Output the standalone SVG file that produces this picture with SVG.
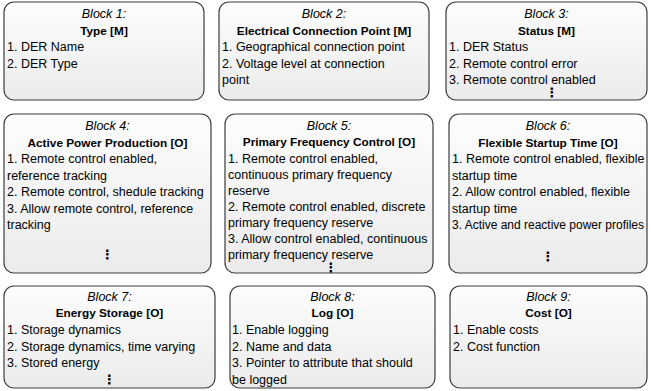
<svg xmlns="http://www.w3.org/2000/svg" width="651" height="391" viewBox="0 0 651 391">
  <defs>
    <linearGradient id="boxFill" x1="0" y1="0" x2="0" y2="1">
      <stop offset="0" stop-color="#fdfdfd"/>
      <stop offset="1" stop-color="#ebebeb"/>
    </linearGradient>
    <style>
      .box { fill: url(#boxFill); stroke: #3c3c3c; stroke-width: 1.2; }
      text { font-family: "Liberation Sans", Arial, sans-serif; fill: #000; }
      .head { font-size: 12.5px; font-style: italic; text-anchor: middle; }
      .title { font-size: 11.8px; font-weight: bold; text-anchor: middle; }
      .item { font-size: 12.5px; }
      .dots { font-family: "DejaVu Sans", sans-serif; font-size: 13px; font-weight: bold; text-anchor: middle; }
    </style>
  </defs>

  <!-- Row 1 -->
  <g id="block1">
    <rect class="box" x="4" y="2" width="200" height="98" rx="10"/>
    <text class="head" x="104" y="18">Block 1:</text>
    <text class="title" x="104" y="34.5">Type [M]</text>
    <text class="item" x="7" y="51">1. DER Name</text>
    <text class="item" x="7" y="67.5">2. DER Type</text>
  </g>

  <g id="block2">
    <rect class="box" x="219" y="2" width="210" height="98" rx="10"/>
    <text class="head" x="324" y="18">Block 2:</text>
    <text class="title" x="324" y="34.5">Electrical Connection Point [M]</text>
    <text class="item" x="222" y="51">1. Geographical connection point</text>
    <text class="item" x="222" y="67.5">2. Voltage level at connection</text>
    <text class="item" x="222" y="84">point</text>
  </g>

  <g id="block3">
    <rect class="box" x="446" y="2" width="201" height="98" rx="10"/>
    <text class="head" x="546.5" y="18">Block 3:</text>
    <text class="title" x="546.5" y="34.5">Status [M]</text>
    <text class="item" x="449" y="51">1. DER Status</text>
    <text class="item" x="449" y="67.5">2. Remote control error</text>
    <text class="item" x="449" y="84">3. Remote control enabled</text>
    <text class="dots" x="552" y="97">⋮</text>
  </g>

  <!-- Row 2 -->
  <g id="block4">
    <rect class="box" x="4" y="114" width="207" height="159" rx="10"/>
    <text class="head" x="107.5" y="130">Block 4:</text>
    <text class="title" x="107.5" y="146.5">Active Power Production [O]</text>
    <text class="item" x="7" y="163">1. Remote control enabled,</text>
    <text class="item" x="7" y="179.5">reference tracking</text>
    <text class="item" x="7" y="196">2. Remote control, shedule tracking</text>
    <text class="item" x="7" y="212.5">3. Allow remote control, reference</text>
    <text class="item" x="7" y="229">tracking</text>
    <text class="dots" x="107.5" y="259">⋮</text>
  </g>

  <g id="block5">
    <rect class="box" x="225" y="114" width="208" height="159" rx="10"/>
    <text class="head" x="329" y="130">Block 5:</text>
    <text class="title" x="329" y="146">Primary Frequency Control [O]</text>
    <text class="item" x="228" y="162.5">1. Remote control enabled,</text>
    <text class="item" x="228" y="178.5">continuous primary frequency</text>
    <text class="item" x="228" y="194.5">reserve</text>
    <text class="item" x="228" y="210.5">2. Remote control enabled, discrete</text>
    <text class="item" x="228" y="226.5">primary frequency reserve</text>
    <text class="item" x="228" y="242.5">3. Allow control enabled, continuous</text>
    <text class="item" x="228" y="258.5">primary frequency reserve</text>
    <text class="dots" x="331" y="272">⋮</text>
  </g>

  <g id="block6">
    <rect class="box" x="449" y="114" width="198" height="159" rx="10"/>
    <text class="head" x="548" y="130">Block 6:</text>
    <text class="title" x="548" y="146.5">Flexible Startup Time [O]</text>
    <text class="item" x="452" y="163">1. Remote control enabled, flexible</text>
    <text class="item" x="452" y="179.5">startup time</text>
    <text class="item" x="452" y="196">2. Allow control enabled, flexible</text>
    <text class="item" x="452" y="212.5">startup time</text>
    <text class="item" x="452" y="229" textLength="192" lengthAdjust="spacingAndGlyphs">3. Active and reactive power profiles</text>
    <text class="dots" x="548" y="261">⋮</text>
  </g>

  <!-- Row 3 -->
  <g id="block7">
    <rect class="box" x="4" y="286" width="211" height="102" rx="10"/>
    <text class="head" x="109.5" y="301">Block 7:</text>
    <text class="title" x="109.5" y="317">Energy Storage [O]</text>
    <text class="item" x="7" y="334">1. Storage dynamics</text>
    <text class="item" x="7" y="350.5">2. Storage dynamics, time varying</text>
    <text class="item" x="7" y="367">3. Stored energy</text>
    <text class="dots" x="109.5" y="384">⋮</text>
  </g>

  <g id="block8">
    <rect class="box" x="230" y="286" width="205" height="102" rx="10"/>
    <text class="head" x="332.5" y="301">Block 8:</text>
    <text class="title" x="332.5" y="317">Log [O]</text>
    <text class="item" x="232" y="334">1. Enable logging</text>
    <text class="item" x="232" y="350.5">2. Name and data</text>
    <text class="item" x="232" y="367">3. Pointer to attribute that should</text>
    <text class="item" x="232" y="383.5">be logged</text>
  </g>

  <g id="block9">
    <rect class="box" x="450" y="286" width="197" height="102" rx="10"/>
    <text class="head" x="548.5" y="301">Block 9:</text>
    <text class="title" x="548.5" y="317">Cost [O]</text>
    <text class="item" x="453" y="334">1. Enable costs</text>
    <text class="item" x="453" y="350.5">2. Cost function</text>
  </g>

  <g id="connectors"/>
</svg>
